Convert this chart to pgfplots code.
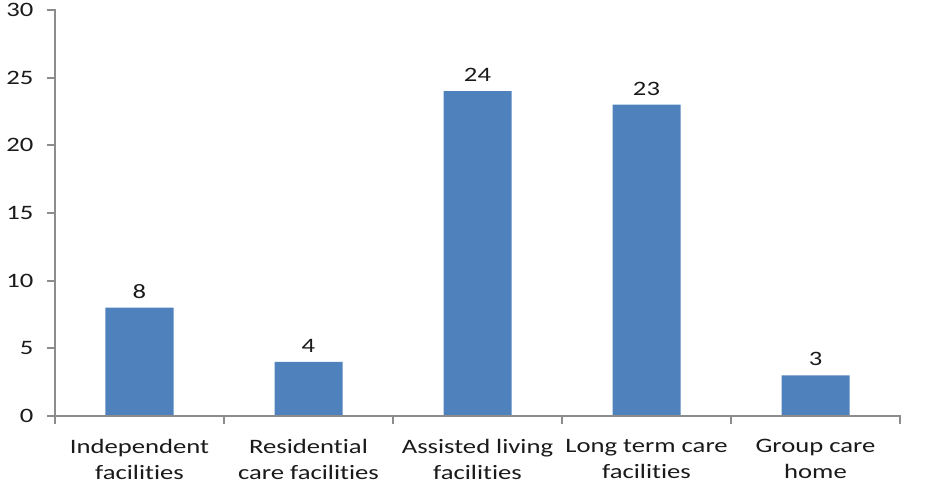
\documentclass[border=0pt]{standalone}
\usepackage{pgfplots}
\pgfplotsset{compat=1.18}
\usepackage{fontspec}
\setmainfont{Carlito}[FakeStretch=1.3, Ligatures={NoCommon}]
\definecolor{barblue}{HTML}{4F81BD}
\definecolor{axisgray}{HTML}{8C8C8C}
\definecolor{labeltext}{HTML}{1A1A1A}
\begin{document}
\begin{tikzpicture}
\useasboundingbox (-55pt,-74pt) rectangle (886pt,416pt);
\begin{axis}[
  at={(0pt,0pt)}, anchor=south west,
  scale only axis,
  width=845pt, height=406pt,
  xmin=-0.5, xmax=4.5,
  ymin=0, ymax=30,
  axis lines*=left,
  axis line style={draw=none},
  ytick={0,5,...,30},
  xtick={0,1,2,3,4},
  xticklabels={{Independent\\facilities},{Residential\\care facilities},{Assisted living\\facilities},{Long term care\\facilities},{Group care\\home}},
  xticklabel style={align=center, font=\fontsize{20.5}{26}\selectfont, text=labeltext, yshift=-12pt},
  yticklabel style={font=\fontsize{20.5}{24}\selectfont, text=labeltext, xshift=-10pt},
  /pgf/number format/assume math mode=true,
  major x tick style={draw=none},
  minor xtick={-0.5,0.5,...,4.5},
  minor tick length=8pt,
  major tick length=8pt,
  tick align=outside,
  tick style={draw=axisgray, line width=2pt},
  xtick pos=bottom, ytick pos=left,
  ybar, bar width=68pt,
  nodes near coords,
  every node near coord/.append style={font=\fontsize{20.5}{24}\selectfont, text=labeltext, yshift=6pt},
  clip=false,
]
\addplot[fill=barblue, draw=none] coordinates {(0,8) (1,4) (2,24) (3,23) (4,3)};
% gray left and bottom axis lines
\draw[axisgray, line width=2.5pt, line cap=rect]
  (rel axis cs:0,1) -- (rel axis cs:0,0) -- (rel axis cs:1,0);
\end{axis}
\end{tikzpicture}
\end{document}
